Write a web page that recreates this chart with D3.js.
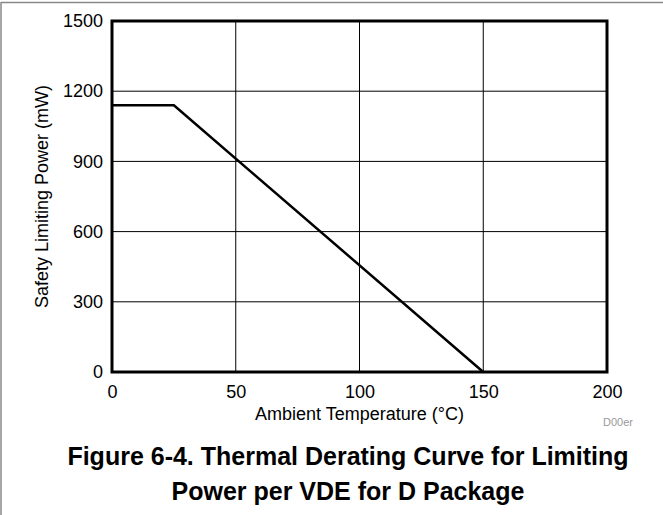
<!DOCTYPE html>
<html>
<head>
<meta charset="utf-8">
<script src="https://cdn.jsdelivr.net/npm/d3@7"></script>
<style>
  body { margin: 0; background: #fff; }
  text { font-family: "Liberation Sans", Arial, sans-serif; }
</style>
</head>
<body>
<div id="chart"></div>
<script>
// data
var temps = [0, 25, 150];
var powers = [1140, 1140, 0];
var xTicks = [0, 50, 100, 150, 200];
var yTicks = [0, 300, 600, 900, 1200, 1500];
var captionLines = ["Figure 6-4. Thermal Derating Curve for Limiting", "Power per VDE for D Package"];

var width = 663,
    height = 515;

var plot = { left: 112, top: 21, right: 607, bottom: 372 };

var svg = d3.select("#chart")
  .append("svg")
  .attr("width", width)
  .attr("height", height);

// outer figure border (only top and left visible)
svg.append("line")
  .attr("x1", 1).attr("x2", width).attr("y1", 2.5).attr("y2", 2.5)
  .attr("stroke", "#888").attr("stroke-width", 1.5);
svg.append("line")
  .attr("x1", 1).attr("x2", 1).attr("y1", 2).attr("y2", height)
  .attr("stroke", "#888").attr("stroke-width", 1.5);

var x = d3.scaleLinear().domain([0, 200]).range([plot.left, plot.right]);
var y = d3.scaleLinear().domain([0, 1500]).range([plot.bottom, plot.top]);

// grid lines
svg.append("g")
  .selectAll("line.vgrid")
  .data(xTicks.slice(1, -1))
  .enter().append("line")
  .attr("x1", function(d) { return x(d); })
  .attr("x2", function(d) { return x(d); })
  .attr("y1", plot.top)
  .attr("y2", plot.bottom)
  .attr("stroke", "#000")
  .attr("stroke-width", 1);

svg.append("g")
  .selectAll("line.hgrid")
  .data(yTicks.slice(1, -1))
  .enter().append("line")
  .attr("x1", plot.left)
  .attr("x2", plot.right)
  .attr("y1", function(d) { return y(d); })
  .attr("y2", function(d) { return y(d); })
  .attr("stroke", "#000")
  .attr("stroke-width", 1);

// axes (labels only, frame drawn separately)
var fmt = d3.format("d");

var xAxis = svg.append("g")
  .attr("transform", "translate(0," + plot.bottom + ")")
  .call(d3.axisBottom(x).tickValues(xTicks).tickFormat(fmt).tickSize(0).tickPadding(13));
xAxis.select(".domain").remove();
xAxis.selectAll("text").attr("font-size", 18).attr("fill", "#000")
  .style("font-family", "'Liberation Sans', Arial, sans-serif");

var yAxis = svg.append("g")
  .attr("transform", "translate(" + plot.left + ",0)")
  .call(d3.axisLeft(y).tickValues(yTicks).tickFormat(fmt).tickSize(0).tickPadding(9));
yAxis.select(".domain").remove();
yAxis.selectAll("text").attr("font-size", 18).attr("fill", "#000")
  .style("font-family", "'Liberation Sans', Arial, sans-serif");

// plot frame
svg.append("rect")
  .attr("x", plot.left)
  .attr("y", plot.top)
  .attr("width", plot.right - plot.left)
  .attr("height", plot.bottom - plot.top)
  .attr("fill", "none")
  .attr("stroke", "#000")
  .attr("stroke-width", 3);

// the derating line
var line = d3.line()
  .x(function(d) { return x(d[0]); })
  .y(function(d) { return y(d[1]); });

svg.append("path")
  .datum(d3.zip(temps, powers))
  .attr("d", line)
  .attr("fill", "none")
  .attr("stroke", "#000")
  .attr("stroke-width", 2.5);

// axis titles
svg.append("text")
  .attr("x", (plot.left + plot.right) / 2)
  .attr("y", 420)
  .attr("text-anchor", "middle")
  .attr("font-size", 18)
  .text("Ambient Temperature (°C)");

svg.append("text")
  .attr("transform", "translate(48," + ((plot.top + plot.bottom) / 2) + ") rotate(-90)")
  .attr("text-anchor", "middle")
  .attr("font-size", 18)
  .text("Safety Limiting Power (mW)");

// small figure id
svg.append("text")
  .attr("x", 618)
  .attr("y", 426)
  .attr("text-anchor", "middle")
  .attr("font-size", 11)
  .attr("fill", "#999")
  .text("D00er");

// caption
svg.append("g")
  .selectAll("text")
  .data(captionLines)
  .enter().append("text")
  .attr("x", 348)
  .attr("y", function(d, i) { return 465 + i * 35; })
  .attr("text-anchor", "middle")
  .attr("font-size", 25)
  .attr("font-weight", "bold")
  .text(function(d) { return d; });
</script>
</body>
</html>
